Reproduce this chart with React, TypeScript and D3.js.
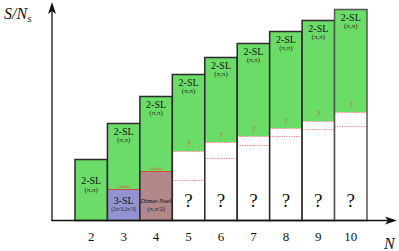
import React from "react";
import * as d3 from "d3";

const sizes = [2, 3, 4, 5, 6, 7, 8, 9, 10];
const totals = [61, 97, 124, 146, 163, 177, 189, 200, 211];
const greenBottom = [0, 31, 49, 69, 78, 84, 92, 99, 108];
const lowerBound = [null, null, null, 40, 62, 75, 84, 91, 94];
const lowPhase = ["", "3-SL", "Dimer-Neel", "?", "?", "?", "?", "?", "?"];
const lowMomentum = ["", "(2π/3,2π/3)", "(π,π/2)", "", "", "", "", "", ""];
const topPhase = "2-SL";
const topMomentum = "(π,π)";

const W = 399, H = 251;
const GREEN = "#6cdc69";
const PURPLE = "#9393d1";
const BROWN = "#b4888a";
const DOT = "#f28080";
const FONT = "Liberation Serif, Times New Roman, serif";

export default function App() {
  const x = d3.scaleBand<number>().domain(sizes).range([75, 367]).padding(0);
  const y = d3.scaleLinear().domain([0, 215]).range([220.5, 5.5]);
  const bw = x.bandwidth();
  return (
    <svg width={W} height={H} style={{ position: "absolute", left: 0, top: 0 }} fontFamily={FONT}>
      <rect width={W} height={H} fill="#fff" />
      {sizes.map((n, i) => {
        const x0 = x(n)!;
        const cx = x0 + bw / 2;
        const top = y(totals[i]);
        const gb = y(greenBottom[i]);
        const bottom = y(0);
        const lb = lowerBound[i];
        const lowFill = i === 1 ? PURPLE : i === 2 ? BROWN : "#fff";
        return (
          <g key={n}>
            <rect x={x0} y={top} width={bw} height={gb - top} fill={GREEN} />
            {i > 0 && <rect x={x0} y={gb} width={bw} height={bottom - gb} fill={lowFill} />}
            {(i === 1 || i === 2) && (
              <>
                <line x1={x0} x2={x0 + bw} y1={gb} y2={gb} stroke="#d8463a" strokeWidth={1.2} />
                <text x={cx} y={gb - 1.8} fontSize={4} textAnchor="middle" fill="#d05030">Lifshitz</text>
              </>
            )}
            {i >= 3 && (
              <>
                <line x1={x0} x2={x0 + bw} y1={gb} y2={gb} stroke={DOT} strokeWidth={1.2} strokeDasharray="1.2,1.2" />
                <line x1={x0} x2={x0 + bw} y1={y(lb!)} y2={y(lb!)} stroke={DOT} strokeWidth={1.2} strokeDasharray="1.2,1.2" />
                <text x={cx} y={gb - 5} fontSize={9} textAnchor="middle" fill="#c8703a">?</text>
                <text x={cx} y={207} fontSize={19} textAnchor="middle" fill="#111">?</text>
              </>
            )}
            {i === 0 ? (
              <>
                <text x={cx} y={184} fontSize={10} textAnchor="middle" fill="#111">{topPhase}</text>
                <text x={cx} y={192} fontSize={7} textAnchor="middle" fill="#222">{topMomentum}</text>
              </>
            ) : (
              <>
                <text x={cx} y={top + 11} fontSize={10} textAnchor="middle" fill="#111">{topPhase}</text>
                <text x={cx} y={top + 18} fontSize={7} textAnchor="middle" fill="#222">{topMomentum}</text>
              </>
            )}
            {i === 1 && (
              <>
                <text x={cx} y={204} fontSize={10} textAnchor="middle" fill="#111">{lowPhase[i]}</text>
                <text x={cx} y={211} fontSize={5.5} textAnchor="middle" fill="#222">{lowMomentum[i]}</text>
              </>
            )}
            {i === 2 && (
              <>
                <text x={cx} y={203} fontSize={6.5} textAnchor="middle" fill="#111">{lowPhase[i]}</text>
                <text x={cx} y={211} fontSize={6.5} textAnchor="middle" fill="#222">{lowMomentum[i]}</text>
              </>
            )}
            <rect x={x0} y={top} width={bw} height={bottom - top} fill="none" stroke={i === 8 ? "#555" : "#2a2a2a"} strokeWidth={1.5} />
            <text x={cx} y={241} fontSize={13} textAnchor="middle" fill="#111">{n}</text>
          </g>
        );
      })}
      <line x1={52} x2={52} y1={221} y2={8} stroke="#111" strokeWidth={1.3} />
      <path d="M52,2 L56,14 L52,11 L48,14 Z" fill="#111" />
      <line x1={51.5} x2={390} y1={220.5} y2={220.5} stroke="#111" strokeWidth={1.3} />
      <path d="M397,220.5 L385,216.5 L388,220.5 L385,224.5 Z" fill="#111" />
      <text x={4} y={19} fontSize={16} fontStyle="italic" fill="#111">S/N<tspan fontSize={11} dy={3}>s</tspan></text>
      <text x={384} y={249} fontSize={16} fontStyle="italic" fill="#111">N</text>
    </svg>
  );
}
